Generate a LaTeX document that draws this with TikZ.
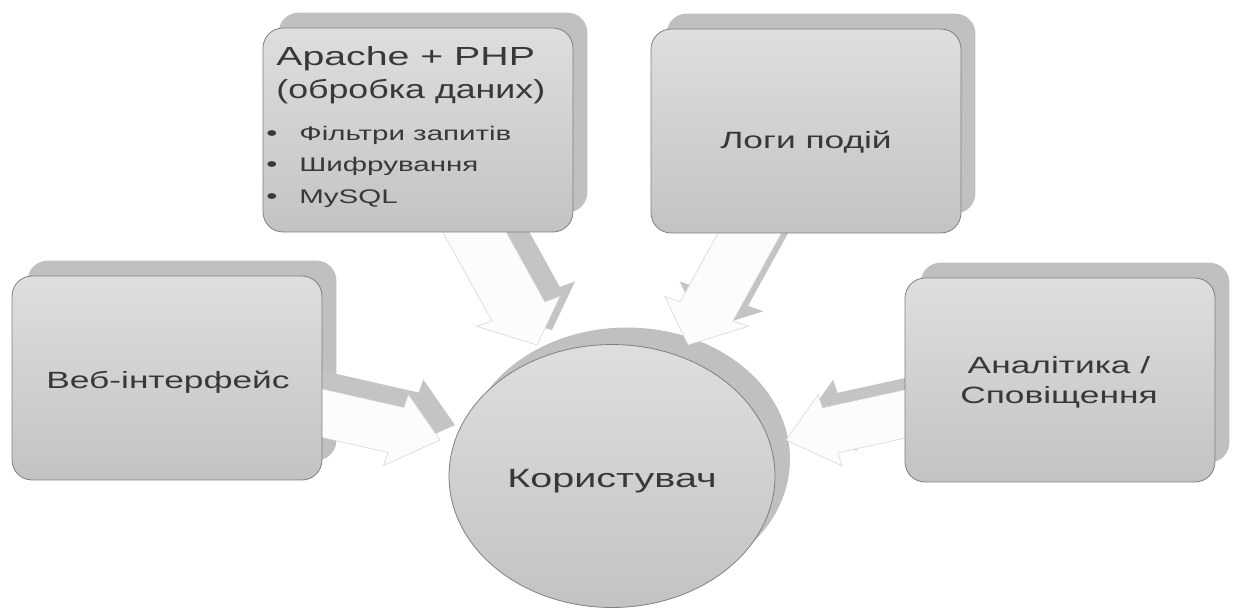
\documentclass[tikz,border=0pt]{standalone}
\usepackage{fontspec}
\setmainfont{Liberation Sans}
\newfontfamily\lblfont{Liberation Sans}[FakeStretch=1.5]
\usetikzlibrary{shapes.geometric,calc}

\pgfdeclarelayer{paper}
\pgfdeclarelayer{shadows}
\pgfdeclarelayer{arrows}
\pgfsetlayers{paper,shadows,arrows,main}

\definecolor{boxtop}{HTML}{DEDEDE}
\definecolor{boxbot}{HTML}{C3C3C3}
\definecolor{boxline}{HTML}{7F7F7F}
\definecolor{shadowgray}{HTML}{C0C0C0}
\definecolor{arrowfill}{HTML}{FCFCFC}
\definecolor{arrowline}{HTML}{D4D4D4}
\definecolor{arrowshadow}{HTML}{C4C4C4}
\definecolor{txt}{HTML}{383838}

% horizontal stretch of the block arrows
\newcommand\arrstretch{1.24}
% block arrow from #1 (start, hidden behind a box) to the tip #2,
% style #3, shifted by (#4,#5)
\newcommand\blockarrow[5]{%
  \path[#3] let \p1=(#1), \p2=(#2),
      \n1={atan2(\y1-\y2,(\x1-\x2)/\arrstretch)},
      \n2={veclen((\x1-\x2)/\arrstretch,\y1-\y2)},
      \n3={cos(\n1)}, \n4={sin(\n1)} in
    ({\x2+#4},{\y2+#5})
    -- ({\x2+#4+\arrstretch*(21*\n3-21*\n4)},{\y2+#5+21*\n4+21*\n3})
    -- ({\x2+#4+\arrstretch*(21*\n3-13.3*\n4)},{\y2+#5+21*\n4+13.3*\n3})
    -- ({\x2+#4+\arrstretch*(\n2*\n3-13.3*\n4)},{\y2+#5+\n2*\n4+13.3*\n3})
    -- ({\x2+#4+\arrstretch*(\n2*\n3+13.3*\n4)},{\y2+#5+\n2*\n4-13.3*\n3})
    -- ({\x2+#4+\arrstretch*(21*\n3+13.3*\n4)},{\y2+#5+21*\n4-13.3*\n3})
    -- ({\x2+#4+\arrstretch*(21*\n3+21*\n4)},{\y2+#5+21*\n4-21*\n3})
    -- cycle;%
}

\tikzset{
  box/.style={draw=boxline, line width=0.45pt, rounded corners=0.4cm,
    top color=boxtop, bottom color=boxbot,
    minimum width=6.2cm, minimum height=4.08cm, inner sep=0pt},
  hub/.style={ellipse, draw=boxline, line width=0.45pt,
    top color=boxtop, bottom color=boxbot,
    minimum width=6.52cm, minimum height=5.26cm, inner sep=0pt},
  lbl/.style={inner sep=0pt, anchor=base, text=txt},
  lblw/.style={inner sep=0pt, anchor=base west, text=txt},
  arrowshade/.style={fill=arrowshadow},
  arrowbody/.style={fill=arrowfill, draw=arrowline, line width=0.3pt},
}

\begin{document}
\begin{tikzpicture}[x=0.02cm, y=-0.02cm]
  \useasboundingbox (0,0) rectangle (1237,610);
  \begin{pgfonlayer}{paper}
    \fill[white] (0,0) rectangle (1237,610);
  \end{pgfonlayer}

  % boxes and the central circle
  \node[box] (web) at (167,378) {};
  \node[box] (apache) at (418,130) {};
  \node[box] (logs) at (806,131) {};
  \node[box] (alerts) at (1060,380) {};
  \node[hub] (user) at (612,476) {};

  % arrow tips
  \coordinate (tipW) at (440,440);
  \coordinate (tipA) at (537,345);
  \coordinate (tipL) at (688,345);
  \coordinate (tipR) at (786,440);

  % offset shadows
  \begin{pgfonlayer}{shadows}
    \foreach \b in {web,apache,logs,alerts}
      \fill[shadowgray, rounded corners=0.4cm]
        ($(\b.north west)+(16,-15)$) rectangle ($(\b.south east)+(14,-20)$);
    \fill[shadowgray] ($(user.center)+(15,-17)$)
      ellipse [x radius=3.26cm, y radius=2.63cm];
  \end{pgfonlayer}

  % converging block arrows
  \begin{pgfonlayer}{arrows}
    \blockarrow{web.center}{tipW}{arrowshade}{8.5pt}{8.5pt}
    \blockarrow{apache.center}{tipA}{arrowshade}{8.5pt}{8.5pt}
    \blockarrow{logs.center}{tipL}{arrowshade}{8.5pt}{8.5pt}
    \blockarrow{alerts.center}{tipR}{arrowshade}{8.5pt}{8.5pt}
    \blockarrow{web.center}{tipW}{arrowbody}{0pt}{0pt}
    \blockarrow{apache.center}{tipA}{arrowbody}{0pt}{0pt}
    \blockarrow{logs.center}{tipL}{arrowbody}{0pt}{0pt}
    \blockarrow{alerts.center}{tipR}{arrowbody}{0pt}{0pt}
  \end{pgfonlayer}

  % texts
  \node[lbl, font=\lblfont\fontsize{13.4}{16}\selectfont] (webText) at (168,388) {Веб-інтерфейс};
  \node[lbl, font=\lblfont\fontsize{13.4}{16}\selectfont] (logsText) at (806,148) {Логи подій};
  \node[lbl, font=\lblfont\fontsize{13.4}{16}\selectfont] (alertsText1) at (1059,373) {Аналітика /};
  \node[lbl, font=\lblfont\fontsize{13.4}{16}\selectfont] (alertsText2) at (1059,403) {Сповіщення};
  \node[lbl, font=\lblfont\fontsize{15}{18}\selectfont] (userText) at (612,487) {Користувач};

  \node[lblw, font=\lblfont\fontsize{14.9}{18}\selectfont] (apText1) at (276,65) {Apache + PHP};
  \node[lblw, font=\lblfont\fontsize{14.9}{18}\selectfont] (apText2) at (276,98) {\scalebox{0.91}[1]{(обробка даних)}};
  \node[lbl, font=\lblfont\fontsize{12}{13}\selectfont] (dot1) at (272,140) {•};
  \node[lbl, font=\lblfont\fontsize{12}{13}\selectfont] (dot2) at (272,171) {•};
  \node[lbl, font=\lblfont\fontsize{12}{13}\selectfont] (dot3) at (272,203) {•};
  \node[lblw, font=\lblfont\fontsize{11.2}{13}\selectfont] (item1) at (299,140) {Фільтри запитів};
  \node[lblw, font=\lblfont\fontsize{11.2}{13}\selectfont] (item2) at (299,171) {Шифрування};
  \node[lblw, font=\lblfont\fontsize{11.2}{13}\selectfont] (item3) at (299,203) {MySQL};
\end{tikzpicture}
\end{document}
